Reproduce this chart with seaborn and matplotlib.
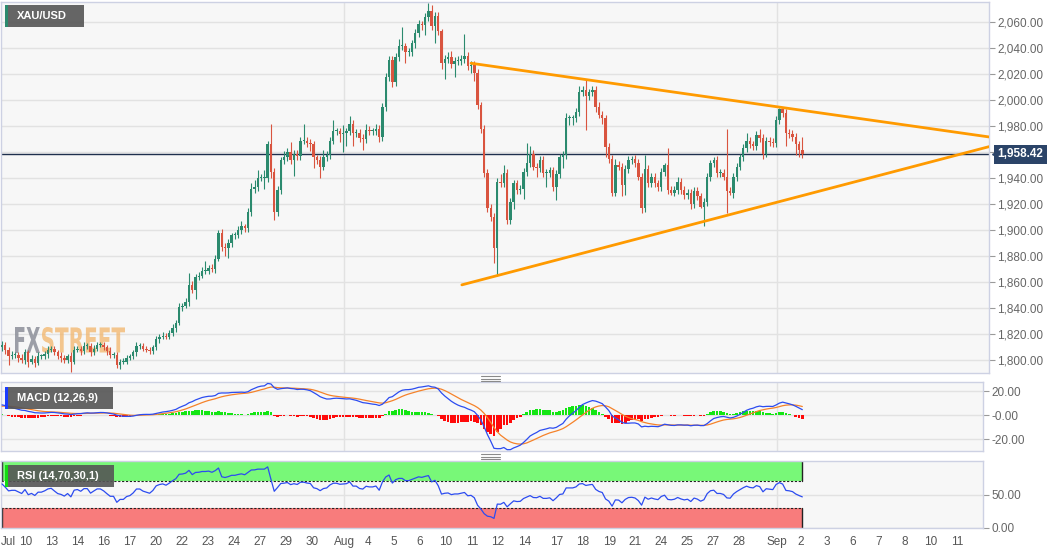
import numpy as np
import pandas as pd
import matplotlib
matplotlib.use("Agg")
import matplotlib.pyplot as plt
import seaborn as sns
from matplotlib.patches import Rectangle, PathPatch
from matplotlib.textpath import TextPath
from matplotlib.font_manager import FontProperties
from matplotlib.transforms import Affine2D, IdentityTransform, blended_transform_factory
from matplotlib.lines import Line2D

# ---------------- data (4H XAU/USD candles) ----------------
first_open = 1810
closes_jul_a = [1812,1808,1803,1804,1804,1802,1800,1806,1799,1801,
                1798,1803,1803,1805,1808,1809,1806,1803,1802,1800,
                1803,1799,1808,1809,1807,1811,1811,1806,1809,1812,
                1812,1810,1807,1804,1804,1796,1799,1799,1802,1803,
                1806,1811,1811,1809,1808,1807,1810,1816,1818,1819,
                1818,1821,1825,1829,1841,1842,1845,1858,1854,1864,
                1865,1869,1869]
closes_jul_b = [1871,1870,1878,1898,1887,1886,1890,1896,1896,1900,
                1903,1902,1914,1932,1933,1940,1940,1940,1966,1945,
                1914,1931,1954,1956,1960,1954,1959,1957,1969,1969,
                1967,1966,1956,1954,1949,1956,1958,1969,1976,1976,
                1974,1975,1976,1982,1975,1975,1971,1970,1977,1976,
                1976,1978,1972,1995,2018,2031,2014,2033,2042,2042]
closes_aug_a = [2037,2037,2044,2052,2059,2058,2064,2069,2057,2065,
                2053,2029,2032,2033,2028,2030,2030,2032,2034,2026,
                2027,2021,1996,1978,1944,1917,1910,1886,1937,1936,
                1944,1908,1922,1936,1931,1932,1945,1952,1959,1949,
                1948,1954,1944,1944,1946,1933,1943,1956,1958,1986,
                1986,1986,1991,2006,2008,2003,2006,2008,1995,1989,
                1986,1964]
closes_aug_b = [1955,1929,1950,1949,1935,1947,1954,1955,1952,1941,
                1917,1947,1936,1941,1936,1933,1945,1950,1931,1929,
                1931,1937,1931,1927,1929,1920,1930,1926,1918,1922,
                1941,1952,1954,1944,1944,1941,1930,1929,1941,1949,
                1956,1963,1969,1966,1965,1973,1971,1959,1969,1968,
                1967,1985,1993,1990,1975,1974,1972,1966,1962,1958.42]

# wick length above / below the candle body (USD)
wick_hi_jul_a = [3,2,2,3,2,2,3,3,2,3, 2,3,2,2,3,2,2,2,3,2, 2,3,3,2,2,3,2,2,3,2,
                 2,2,2,3,2,2,2,3,2,2, 2,3,2,2,2,2,2,3,2,3, 2,2,3,2,3,2,3,9,3,2, 3,3,7]
wick_lo_jul_a = [3,3,7,2,2,3,2,3,4,2, 3,2,2,2,3,2,2,2,3,2, 2,8,2,2,3,2,2,3,2,2,
                 2,2,3,2,2,2,3,2,2,2, 2,3,2,2,2,2,2,2,3,2, 2,2,2,3,2,3,2,3,2,7, 2,2,3]
wick_hi_jul_b = [2,3,3,2,3,3,3,2,3,3, 4,2,3,4,6,6,3,6,3,16, 3,3,2,5,3,8,3,3,3,13,
                 3,3,3,2,3,6,3,3,9,3, 3,6,3,6,3,3,3,3,5,3, 3,4,3,3,3,3,3,3,5,14]
wick_lo_jul_b = [3,2,3,2,3,6,7,3,3,2, 3,3,3,3,3,3,2,8,3,5, 6,3,3,3,3,3,12,3,3,3,
                 3,5,8,3,9,3,3,3,3,3, 6,14,10,3,10,3,3,8,3,3, 3,3,4,3,3,3,4,3,3,3]
wick_hi_aug_a = [2,3,2,3,3,2,3,6,4,3, 3,2,3,4,5,3,4,3,17,3, 3,3,3,3,3,3,3,3,3,6,
                 6,3,3,3,3,3,3,15,6,3, 3,3,3,3,3,3,3,3,3,4, 3,3,3,5,3,8,3,3,3,4, 3,3]
wick_lo_aug_a = [8,3,3,4,3,4,8,3,3,13, 3,5,13,3,3,10,3,3,3,3, 5,6,3,3,3,3,3,11,21,3,
                 3,3,3,6,3,3,8,3,3,3, 7,3,3,11,3,3,10,3,8,3, 5,5,3,3,3,26,3,3,4,3, 4,8]
wick_hi_aug_b = [3,3,5,3,3,3,3,2,3,3, 3,11,3,3,3,3,3,2,13,3, 3,4,3,3,3,3,3,3,3,3,
                 3,2,2,3,3,3,37,3,3,3, 3,3,6,3,3,3,5,3,3,3, 3,3,1,2,3,3,3,3,3,10]
wick_lo_aug_b = [3,3,3,3,9,8,3,3,3,2, 4,3,3,3,3,3,3,3,3,2, 3,3,3,3,3,4,3,3,1,15,
                 3,3,3,3,3,2,17,2,4,3, 3,3,3,3,3,3,3,4,3,3, 3,3,3,3,10,3,3,8,6,3]

# indicator state before the first visible candle
ema_fast_seed = 1806.0
ema_slow_seed = 1797.0
signal_seed = 7.5
rsi_gain_seed = 2.6
rsi_loss_seed = 1.4

# analyst trendlines (candle index, price)
upper_trend_idx = [143.0, 300.9]
upper_trend_px = [2028.5, 1971.8]
lower_trend_idx = [140.2, 300.9]
lower_trend_px = [1858.0, 1964.3]
last_price = 1958.42

date_labels = ["Jul","10","13","14","16","17","20","22","23","24","27","29","30",
               "Aug","4","5","6","10","11","12","14","17","18","19","21","24","25","27","28",
               "Sep","2","3","6","7","8","10","11"]
date_idx = [-0.3,7.3,15.2,23.2,31.1,39.0,47.0,54.9,62.8,70.7,78.7,86.6,94.5,
            104.3,111.6,119.5,127.4,135.4,143.3,151.2,159.5,169.2,177.1,185.1,193.0,200.9,208.8,216.8,224.7,
            236.3,243.6,251.5,259.5,267.4,275.3,283.2,291.2]
month_idx = [104.3, 236.3]
price_ticks = [1800,1820,1840,1860,1880,1900,1920,1940,1960,1980,2000,2020,2040,2060]
macd_ticks = [-20, 0, 20]
macd_tick_labels = ["-20.00", "-0.00", "20.00"]
rsi_ticks = [0, 50]
rsi_tick_labels = ["0.00", "50.00"]

# ---------------- derived series ----------------
closes = np.array(closes_jul_a + closes_jul_b + closes_aug_a + closes_aug_b, dtype=float)
wick_hi = np.array(wick_hi_jul_a + wick_hi_jul_b + wick_hi_aug_a + wick_hi_aug_b, dtype=float)
wick_lo = np.array(wick_lo_jul_a + wick_lo_jul_b + wick_lo_aug_a + wick_lo_aug_b, dtype=float)
n = len(closes)
idx = np.arange(n)
opens = np.r_[first_open, closes[:-1]]
highs = np.maximum(opens, closes) + wick_hi
lows = np.minimum(opens, closes) - wick_lo

def ema(values, span, seed):
    a = 2.0 / (span + 1)
    out, e = [], seed
    for v in values:
        e += a * (v - e)
        out.append(e)
    return np.array(out)

macd_line = ema(closes, 12, ema_fast_seed) - ema(closes, 26, ema_slow_seed)
signal_line = ema(macd_line, 9, signal_seed)
hist = macd_line - signal_line

diffs = closes - opens
ag, al, rsi = rsi_gain_seed, rsi_loss_seed, []
for d in diffs:
    ag = (ag * 13 + max(d, 0)) / 14
    al = (al * 13 + max(-d, 0)) / 14
    rsi.append(100 - 100 / (1 + ag / al))
rsi = np.array(rsi)

# ---------------- style ----------------
sns.set_style("white")
plt.rcParams['font.family'] = ['Liberation Sans', 'DejaVu Sans']

W, H = 1060, 555
GREEN = '#2b8a6e'
RED = '#d9543f'
SPINE = '#cdd1e3'
GRID = '#e2e2e2'
BG = '#f7f7f7'

fig = plt.figure(figsize=(W/100, H/100), dpi=100)
fig.patch.set_facecolor('white')

def rect(x0, y0, x1, y1):
    return [x0/W, 1-y1/H, (x1-x0)/W, (y1-y0)/H]

ax = fig.add_axes(rect(1, 2, 989, 373))
axm = fig.add_axes(rect(1, 382, 983, 451))
axr = fig.add_axes(rect(1, 461, 983, 528))

px_per_idx = 3.28
def idx_of(px):
    return (px - 2) / px_per_idx

for a, right in ((ax, 989), (axm, 983), (axr, 983)):
    a.set_facecolor(BG)
    for sp in a.spines.values():
        sp.set_color(SPINE)
        sp.set_linewidth(1)
    a.set_xlim(idx_of(1), idx_of(right))
    a.yaxis.tick_right()
    a.tick_params(axis='y', direction='out', length=4, width=0.8, color='#9a9a9a',
                  labelsize=8.5, labelcolor='#666666', pad=2)
    a.grid(axis='y', color=GRID, lw=1)
    a.set_axisbelow(True)
    for m in month_idx:
        a.axvline(m, color=GRID, lw=1, zorder=0.5)

# ---------------- main price panel ----------------
ax.set_ylim(1790.2, 2075.6)
ax.set_yticks(price_ticks)
ax.set_yticklabels([f"{v:,.2f}" for v in price_ticks])
ax.set_xticks([])

# watermark
fp = FontProperties(family='DejaVu Sans', weight='bold')
def watermark(text, x0, x1, y0, y1, color, alpha):
    tp = TextPath((0, 0), text, size=40, prop=fp)
    e = tp.get_extents()
    tr = Affine2D().translate(-e.x0, -e.y0).scale((x1-x0)/e.width, (y1-y0)/e.height).translate(x0, H-y1)
    p = PathPatch(tr.transform_path(tp), transform=IdentityTransform(), fc=color, ec='none',
                  alpha=alpha, zorder=1)
    ax.add_artist(p)
watermark("FX", 15, 40, 327, 353, '#8c8f99', 0.85)
watermark("STREET", 42, 125, 327, 353, '#f2b56a', 0.75)

up = closes >= opens
cols = np.where(up, GREEN, RED)
ax.vlines(idx, lows, highs, colors=cols, lw=0.8, zorder=3)
body_lo = np.minimum(opens, closes)
body_h = np.maximum(np.abs(closes - opens), 0.8)
ax.bar(idx, body_h, bottom=body_lo, width=0.74, color=cols, lw=0, zorder=4)

ax.axhline(last_price, color='#1e2f4d', lw=1.0, zorder=2.5)
sns.lineplot(x=upper_trend_idx, y=upper_trend_px, ax=ax, color='#ff9a00', lw=2.0, zorder=5)
sns.lineplot(x=lower_trend_idx, y=lower_trend_px, ax=ax, color='#ff9a00', lw=2.0, zorder=5)
ax.set_xlim(idx_of(1), idx_of(989))
ax.set_xlabel(''); ax.set_ylabel('')

btr = blended_transform_factory(ax.transAxes, ax.transData)
ax.plot([1.006], [last_price], marker='<', color='#2b4468', markersize=5, transform=btr, clip_on=False)
ax.text(1.0085, last_price, f"{last_price:,.2f}", transform=btr, ha='left', va='center',
        color='white', fontsize=8.5, fontweight='bold',
        bbox=dict(boxstyle='square,pad=0.28', fc='#2b4468', ec='none'), clip_on=False)

# ---------------- MACD panel ----------------
axm.set_ylim(-29.6, 27.9)
axm.set_yticks(macd_ticks)
axm.set_yticklabels(macd_tick_labels)
axm.set_xticks([])
hcols = np.where(hist >= 0, '#14e614', '#ff0a0a')
axm.bar(idx, hist, width=0.8, color=hcols, lw=0, zorder=2)
sns.lineplot(x=idx, y=signal_line, ax=axm, color='#f5822a', lw=0.9, zorder=3)
sns.lineplot(x=idx, y=macd_line, ax=axm, color='#2c4cf0', lw=0.9, zorder=4)
axm.set_xlim(idx_of(1), idx_of(983))
axm.set_xlabel(''); axm.set_ylabel('')

# ---------------- RSI panel ----------------
axr.set_ylim(0, 100.8)
axr.set_yticks(rsi_ticks)
axr.set_yticklabels(rsi_tick_labels)
x_left = idx_of(1)
x_right = n - 1
axr.add_patch(Rectangle((x_left, 70), x_right - x_left, 30.8, fc='#78f878', ec='none', zorder=1))
axr.add_patch(Rectangle((x_left, 0), x_right - x_left, 30, fc='#f87c7c', ec='none', zorder=1))
for yv in (70, 30):
    axr.plot([x_left, x_right], [yv, yv], color='#222222', lw=0.8, ls=(0, (2, 1.5)), zorder=2)
for xv in (x_left + 0.2, x_right):
    axr.plot([xv, xv], [70, 100.8], color='#222222', lw=1.0, zorder=2)
    axr.plot([xv, xv], [0, 30], color='#222222', lw=1.0, zorder=2)
sns.lineplot(x=idx, y=rsi, ax=axr, color='#2c4cf0', lw=0.9, zorder=4)
axr.set_xlim(idx_of(1), idx_of(983))
axr.set_xlabel(''); axr.set_ylabel('')
axr.set_xticks(date_idx)
axr.set_xticklabels(date_labels)
axr.tick_params(axis='x', direction='out', length=3, width=0.8, color='#9a9a9a',
                labelsize=8.5, labelcolor='#555555', pad=3)
axr.get_xticklabels()[0].set_horizontalalignment('left')

# ---------------- label boxes & grips ----------------
def label_box(x0, y0, x1, y1, bar_color, text):
    fig.add_artist(Rectangle((x0/W, 1-y1/H), (x1-x0)/W, (y1-y0)/H, transform=fig.transFigure,
                             fc='#555555', ec='none', alpha=0.9, zorder=10))
    fig.add_artist(Rectangle((x0/W, 1-y1/H), 3/W, (y1-y0)/H, transform=fig.transFigure,
                             fc=bar_color, ec='none', zorder=11))
    fig.text((x0+12)/W, 1-(y0+y1)/2/H, text, color='white', fontsize=8, fontweight='bold',
             ha='left', va='center', zorder=12)

label_box(5, 5, 84, 27, '#2b8a6e', "XAU/USD")
label_box(5, 387, 113, 409, '#1a3cff', "MACD (12,26,9)")
label_box(5, 465, 114, 487, '#11dd11', "RSI (14,70,30,1)")

for yy in (376, 378.5, 381, 454, 456.5, 459):
    fig.add_artist(Line2D([481/W, 500/W], [1-yy/H, 1-yy/H], transform=fig.transFigure,
                          color='#8a8a8a', lw=0.8, zorder=10))

fig.savefig("out.png", dpi=100, facecolor='white')
